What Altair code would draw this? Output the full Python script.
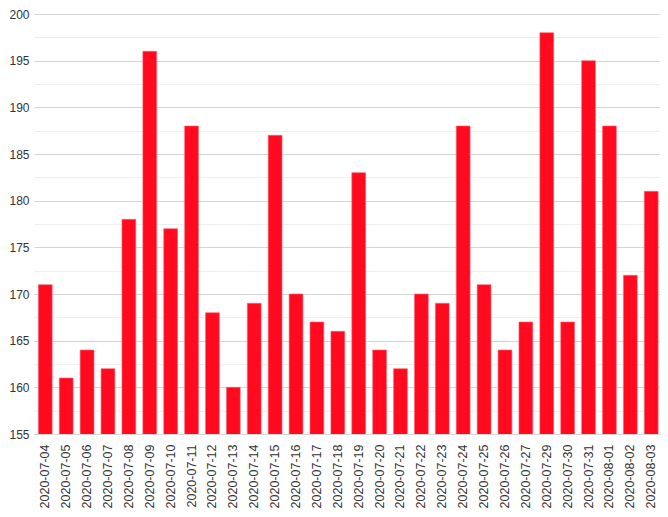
import altair as alt
import pandas as pd

dates = ["2020-07-04", "2020-07-05", "2020-07-06", "2020-07-07", "2020-07-08",
         "2020-07-09", "2020-07-10", "2020-07-11", "2020-07-12", "2020-07-13",
         "2020-07-14", "2020-07-15", "2020-07-16", "2020-07-17", "2020-07-18",
         "2020-07-19", "2020-07-20", "2020-07-21", "2020-07-22", "2020-07-23",
         "2020-07-24", "2020-07-25", "2020-07-26", "2020-07-27", "2020-07-29",
         "2020-07-30", "2020-07-31", "2020-08-01", "2020-08-02", "2020-08-03"]
values = [171, 161, 164, 162, 178, 196, 177, 188, 168, 160,
          169, 187, 170, 167, 166, 183, 164, 162, 170, 169,
          188, 171, 164, 167, 198, 167, 195, 188, 172, 181]
y_ticks = [155 + 2.5 * i for i in range(19)]

df = pd.DataFrame({"date": dates, "value": values})

chart = alt.Chart(df).mark_bar(
    color="#FF0A1E", stroke="#FF6070", strokeWidth=0.6, clip=True
).encode(
    x=alt.X("date:N", sort=dates, title=None,
            scale=alt.Scale(paddingInner=0.34, paddingOuter=0.15, align=0.7),
            axis=alt.Axis(labelAngle=-90, labelFontSize=12.5, labelColor="#333333",
                          labelFont="Liberation Sans", ticks=False, tickSize=0,
                          domain=False, labelPadding=10, grid=False)),
    y=alt.Y("value:Q", title=None,
            scale=alt.Scale(domain=[155, 200], zero=False, nice=False),
            axis=alt.Axis(values=y_ticks, labelFontSize=12, labelColor="#333333",
                          labelFont="Liberation Sans", ticks=False, tickSize=0,
                          domain=False, labelPadding=5,
                          labelExpr="datum.value % 5 === 0 ? datum.label : ''",
                          gridColor={"condition": {"test": "datum.value % 5 === 0", "value": "#d4d4d4"},
                                     "value": "#eeeeee"},
                          gridWidth=1))
).properties(
    width=626, height=420,
    padding={"left": 0, "top": 0, "right": 0, "bottom": 0}
).configure_view(stroke=None)

chart.save("out.html", embed_options={"renderer": "svg", "actions": False})
